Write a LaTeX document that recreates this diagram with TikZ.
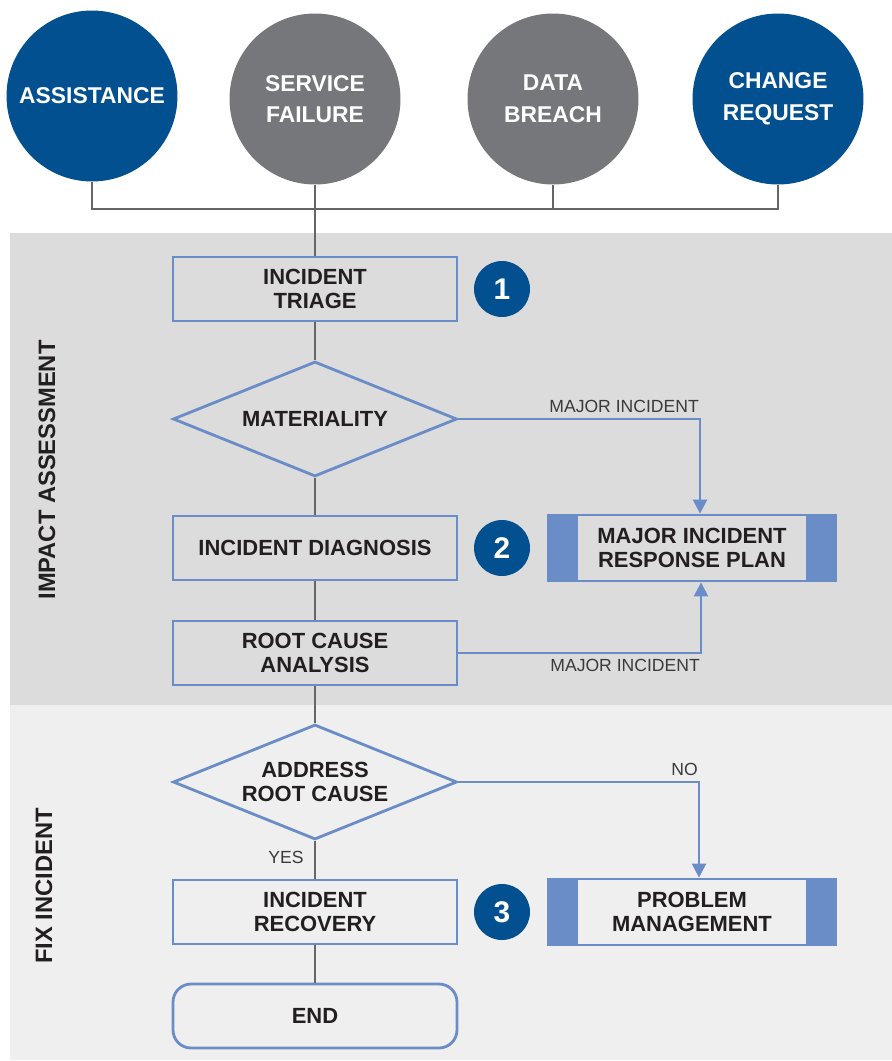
\documentclass[tikz,border=0pt]{standalone}
\usepackage{fontspec}
\setmainfont{Liberation Sans}
\usepackage{tikz}
\usetikzlibrary{shapes.geometric}
\usetikzlibrary{arrows.meta}
\usetikzlibrary{calc}
\definecolor{navy}{HTML}{02508F}
\definecolor{slate}{HTML}{76777A}
\definecolor{lineblue}{HTML}{6A8CC7}
\definecolor{wire}{HTML}{666666}
\definecolor{ink}{HTML}{231F20}
\definecolor{labelgray}{HTML}{3A3A3A}
\definecolor{panela}{HTML}{DCDCDC}
\definecolor{panelb}{HTML}{EFEFEF}

\tikzset{
  src/.style={circle, minimum size=3.42cm, inner sep=0pt, text=white, align=center,
    font=\bfseries\fontsize{13}{18}\selectfont},
  stepbox/.style={draw=lineblue, line width=1.6pt, minimum width=5.68cm, minimum height=1.28cm,
    inner sep=0pt, align=center, text=ink, font=\bfseries\fontsize{12.5}{13.6}\selectfont},
  decide/.style={stepbox, diamond, minimum height=2.3cm, aspect=2.5},
  procbox/.style={stepbox, minimum width=5.74cm, minimum height=1.32cm,
    path picture={
      \fill[lineblue] (path picture bounding box.north west) rectangle ([xshift=0.58cm]path picture bounding box.south west);
      \fill[lineblue] (path picture bounding box.north east) rectangle ([xshift=-0.58cm]path picture bounding box.south east);
    }},
  badge/.style={circle, fill=navy, minimum size=1.12cm, inner sep=0pt, text=white,
    font=\bfseries\fontsize{17}{17}\selectfont},
  feed/.style={draw=wire, line width=1.1pt},
  flow/.style={draw=lineblue, line width=1.4pt, -{Triangle[length=8pt,width=8pt]}},
  tag/.style={text=labelgray, font=\fontsize{10}{10}\selectfont, inner xsep=0pt, inner ysep=3pt},
  lane/.style={rotate=90, text=ink, font=\bfseries\fontsize{13.5}{13.5}\selectfont}
}

\begin{document}
\begin{tikzpicture}[x=0.02cm,y=-0.02cm]
\useasboundingbox (0,0) rectangle (892,1061);

% lanes
\fill[panela] (10,233) rectangle (892,705);
\fill[panelb] (10,705) rectangle (892,1060);
\node[lane] (impact) at (47,470) {IMPACT ASSESSMENT};
\node[lane] (fix) at (44,886) {FIX INCIDENT};

% sources
\node[src, fill=navy] (assist) at (92,96) {ASSISTANCE};
\node[src, fill=slate] (failure) at (315,99) {SERVICE\\FAILURE};
\node[src, fill=slate] (breach) at (553,99) {DATA\\BREACH};
\node[src, fill=navy] (change) at (778,99) {CHANGE\\REQUEST};
\coordinate (bus) at (315,209);

% main column
\node[stepbox] (triage) at (315,289) {INCIDENT\\TRIAGE};
\node[decide] (mat) at (315,419) {MATERIALITY};
\node[stepbox] (diag) at (315,548) {INCIDENT DIAGNOSIS};
\node[stepbox] (rca) at (315,653) {ROOT CAUSE\\ANALYSIS};
\node[decide] (arc) at (315,782) {ADDRESS\\ROOT CAUSE};
\node[stepbox] (recov) at (315,912) {INCIDENT\\RECOVERY};
\node[stepbox, rounded corners=0.36cm] (end) at (315,1016) {END};

% side processes
\node[procbox] (mirp) at (692,548) {MAJOR INCIDENT\\RESPONSE PLAN};
\node[procbox] (pm) at (692,912) {PROBLEM\\MANAGEMENT};

\node[badge] (b1) at (502,289) {1};
\node[badge] (b2) at (502,548) {2};
\node[badge] (b3) at (502,912) {3};

% grey wiring
\draw[feed] (assist.south) |- (bus) -| (change.south);
\draw[feed] (breach.south) -- (breach.south |- bus);
\draw[feed] (failure.south) -- (triage.north);
\draw[feed] (triage.south) -- (mat.north);
\draw[feed] (mat.south) -- (diag.north);
\draw[feed] (diag.south) -- (rca.north);
\draw[feed] (rca.south) -- (arc.north);
\draw[feed] (arc.south) -- node[tag, left, inner xsep=6pt, pos=0.45] {YES} (recov.north);
\draw[feed] (recov.south) -- (end.north);

% blue branches
\draw[flow] (mat.east) -| node[tag, pos=0.5, anchor=south east] {MAJOR INCIDENT} ([xshift=0.16cm]mirp.north);
\draw[flow] (rca.east) -| node[tag, pos=0.5, anchor=north east] {MAJOR INCIDENT} ([xshift=0.18cm]mirp.south);
\draw[flow] (arc.east) -| node[tag, pos=0.5, anchor=south east] {NO} ([xshift=0.14cm]pm.north);
\end{tikzpicture}
\end{document}
